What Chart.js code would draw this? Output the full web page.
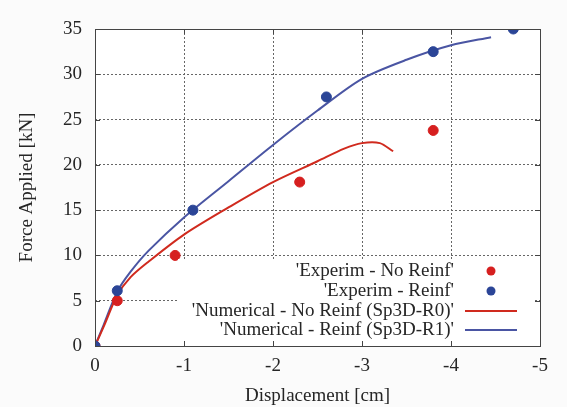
<!DOCTYPE html>
<html>
<head>
<meta charset="utf-8">
<script src="https://cdn.jsdelivr.net/npm/chart.js@4.4.1/dist/chart.umd.min.js"></script>
<style>
  html, body { margin: 0; padding: 0; background: #fbfbfb; }
  #wrap { width: 567px; height: 407px; }
</style>
</head>
<body>
<div id="wrap"><canvas id="chart" width="567" height="407"></canvas></div>
<script>
// experimental points (displacement cm, force kN)
const expNoReinfX = [0, -0.25, -0.9, -2.3, -3.8];
const expNoReinfY = [0, 5.0, 10.0, 18.1, 23.8];
const expReinfX = [0, -0.25, -1.1, -2.6, -3.8, -4.7];
const expReinfY = [0, 6.1, 15.0, 27.5, 32.5, 35.0];

// numerical curves
const numNoReinfX = [0, -0.1, -0.25, -0.4, -0.6, -1.0, -1.5, -2.0, -2.5, -2.8, -3.0, -3.2, -3.35];
const numNoReinfY = [0, 2.2, 5.6, 7.6, 9.3, 12.3, 15.3, 18.1, 20.4, 21.8, 22.4, 22.4, 21.5];
const numReinfX = [0, -0.1, -0.25, -0.4, -0.6, -1.0, -1.5, -2.0, -2.5, -3.0, -3.5, -4.0, -4.45];
const numReinfY = [0, 2.4, 6.0, 8.2, 10.5, 14.2, 18.2, 22.2, 26.0, 29.5, 31.6, 33.2, 34.1];

const xTicks = [0, -1, -2, -3, -4, -5];
const yTicks = [0, 5, 10, 15, 20, 25, 30, 35];

const xTitle = 'Displacement [cm]';
const yTitle = 'Force Applied [kN]';
const legendLabels = [
  "'Experim - No Reinf'",
  "'Experim - Reinf'",
  "'Numerical - No Reinf (Sp3D-R0)'",
  "'Numerical - Reinf (Sp3D-R1)'"
];

const RED = '#d61f1f';
const RED_LINE = '#d02a1e';
const BLUE = '#2b4597';
const BLUE_LINE = '#4a55a3';
const TEXT = '#262626';
const FONT = '"Liberation Serif", "DejaVu Serif", serif';

const toPoints = (xs, ys) => xs.map((x, i) => ({ x, y: ys[i] }));

// white plot area, frame with inward ticks, axis titles
const framePlugin = {
  id: 'frame',
  beforeDraw(chart) {
    const { ctx, chartArea: a } = chart;
    ctx.save();
    ctx.fillStyle = '#ffffff';
    ctx.fillRect(a.left, a.top, a.right - a.left, a.bottom - a.top);
    ctx.restore();
  },
  afterDraw(chart) {
    const { ctx, chartArea: a, scales } = chart;
    ctx.save();
    ctx.strokeStyle = '#444';
    ctx.lineWidth = 1;
    ctx.strokeRect(a.left + 0.5, a.top + 0.5, a.right - a.left, a.bottom - a.top);

    ctx.beginPath();
    xTicks.forEach((v) => {
      const x = Math.round(scales.x.getPixelForValue(v)) + 0.5;
      ctx.moveTo(x, a.bottom); ctx.lineTo(x, a.bottom - 5);
      ctx.moveTo(x, a.top); ctx.lineTo(x, a.top + 5);
    });
    yTicks.forEach((v) => {
      const y = Math.round(scales.y.getPixelForValue(v)) + 0.5;
      ctx.moveTo(a.left, y); ctx.lineTo(a.left + 5, y);
      ctx.moveTo(a.right, y); ctx.lineTo(a.right - 5, y);
    });
    ctx.stroke();

    ctx.fillStyle = TEXT;
    ctx.font = '19px ' + FONT;
    ctx.textAlign = 'center';
    ctx.textBaseline = 'middle';
    ctx.fillText(xTitle, (a.left + a.right) / 2, 396);
    ctx.translate(27, (a.top + a.bottom) / 2);
    ctx.rotate(-Math.PI / 2);
    ctx.fillText(yTitle, 0, 0);
    ctx.restore();
  }
};

// gnuplot-style key: right-aligned text with sample on the right
const keyPlugin = {
  id: 'key',
  afterDatasetsDraw(chart) {
    const { ctx } = chart;
    ctx.save();
    ctx.fillStyle = '#ffffff';
    ctx.fillRect(178, 259, 356, 82);
    ctx.font = '19px ' + FONT;
    ctx.textAlign = 'right';
    ctx.textBaseline = 'middle';
    const rows = [271, 291, 311, 330];
    legendLabels.forEach((label, i) => {
      const y = rows[i];
      ctx.fillStyle = TEXT;
      ctx.fillText(label, 454, y);
      if (i < 2) {
        ctx.fillStyle = i === 0 ? RED : BLUE;
        ctx.beginPath();
        ctx.arc(491, y, 4.5, 0, Math.PI * 2);
        ctx.fill();
      } else {
        ctx.strokeStyle = i === 2 ? RED_LINE : BLUE_LINE;
        ctx.lineWidth = 2;
        ctx.beginPath();
        ctx.moveTo(465, y);
        ctx.lineTo(517, y);
        ctx.stroke();
      }
    });
    ctx.restore();
  }
};

new Chart(document.getElementById('chart'), {
  type: 'scatter',
  data: {
    datasets: [
      {
        label: legendLabels[2],
        data: toPoints(numNoReinfX, numNoReinfY),
        showLine: true,
        borderColor: RED_LINE,
        borderWidth: 2,
        pointRadius: 0,
        tension: 0.3,
        order: 3
      },
      {
        label: legendLabels[3],
        data: toPoints(numReinfX, numReinfY),
        showLine: true,
        borderColor: BLUE_LINE,
        borderWidth: 2,
        pointRadius: 0,
        tension: 0.3,
        order: 4
      },
      {
        label: legendLabels[0],
        data: toPoints(expNoReinfX, expNoReinfY),
        backgroundColor: RED,
        borderColor: RED,
        pointRadius: 5,
        order: 2
      },
      {
        label: legendLabels[1],
        data: toPoints(expReinfX, expReinfY),
        backgroundColor: BLUE,
        borderColor: BLUE,
        pointRadius: 5,
        order: 1
      }
    ]
  },
  options: {
    responsive: false,
    animation: false,
    layout: { padding: { top: 29, right: 27, left: 0, bottom: 0 } },
    plugins: {
      legend: { display: false },
      tooltip: { enabled: false }
    },
    scales: {
      x: {
        type: 'linear',
        min: -5,
        max: 0,
        reverse: true,
        afterBuildTicks: (axis) => { axis.ticks = xTicks.map((v) => ({ value: v })); },
        afterFit: (axis) => { axis.height = 61; },
        grid: { color: '#666', drawTicks: false },
        border: { display: false, dash: [2, 2] },
        ticks: { color: TEXT, font: { family: FONT, size: 19 }, padding: 9 }
      },
      y: {
        type: 'linear',
        min: 0,
        max: 35,
        afterBuildTicks: (axis) => { axis.ticks = yTicks.map((v) => ({ value: v })); },
        afterFit: (axis) => { axis.width = 95; },
        grid: { color: '#666', drawTicks: false },
        border: { display: false, dash: [2, 2] },
        ticks: { color: TEXT, font: { family: FONT, size: 19 }, padding: 13 }
      }
    }
  },
  plugins: [framePlugin, keyPlugin]
});
</script>
</body>
</html>
